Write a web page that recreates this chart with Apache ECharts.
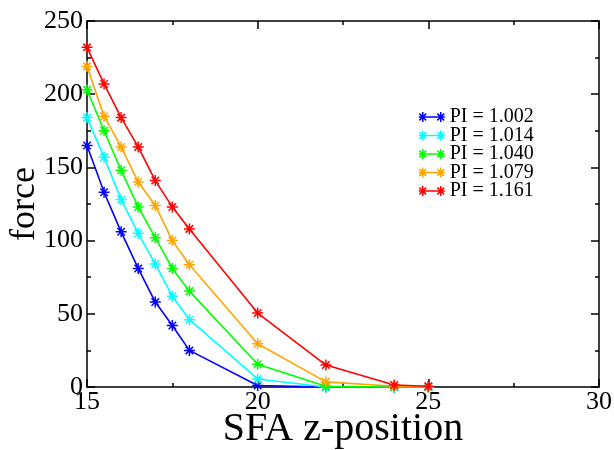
<!DOCTYPE html>
<html><head><meta charset="utf-8">
<script src="https://cdn.jsdelivr.net/npm/echarts@6/dist/echarts.min.js"></script>
<style>html,body{margin:0;padding:0;background:#fff}#c{width:614px;height:450px}</style>
</head><body><div id="c"></div>
<script>
const xPositions = [15, 15.5, 16, 16.5, 17, 17.5, 18, 20, 22, 24, 25];
const seriesNames = ['PI = 1.002', 'PI = 1.014', 'PI = 1.040', 'PI = 1.079', 'PI = 1.161'];
const pi1002 = [165, 133, 106, 81, 58, 42, 25, 1, 0, 0, 0];
const pi1014 = [184, 157, 128, 105, 84, 62, 46, 5.5, 0, 0, 0];
const pi1040 = [203, 175, 148, 123, 102, 81, 65.5, 15.5, 0.5, 0, 0];
const pi1079 = [219, 185, 164, 140, 124, 100, 83.5, 29.5, 3.5, 0.5, 0];
const pi1161 = [232, 207, 184, 164, 141, 123, 108, 50.5, 15, 1.4, 0.5];
const colors = ['#0000ff', '#00ffff', '#00ff00', '#ffa500', '#ff0000'];
const allValues = [pi1002, pi1014, pi1040, pi1079, pi1161];

const star = 'path://M0,5 L10,5 M5,0 L5,10 M1.6,1.6 L8.4,8.4 M8.4,1.6 L1.6,8.4';
const legendIcon = 'path://M0,5 L26,5 M4,0 L4,10 M0.6,1.6 L7.4,8.4 M7.4,1.6 L0.6,8.4 M22,0 L22,10 M18.6,1.6 L25.4,8.4 M25.4,1.6 L18.6,8.4';
const font = 'Liberation Serif';

const chart = echarts.init(document.getElementById('c'));
const series = allValues.map((vals, i) => ({
  name: seriesNames[i],
  type: 'line',
  data: xPositions.map((x, j) => [x, vals[j]]),
  symbol: star,
  symbolSize: 11,
  showAllSymbol: true,
  lineStyle: { color: colors[i], width: 1.6 },
  itemStyle: { color: colors[i], borderColor: colors[i], borderWidth: 1.5 },
  emphasis: { disabled: true },
  animation: false
}));

const tickCommon = { inside: true, length: 8, lineStyle: { color: '#000', width: 1.5 } };
const minorCommon = { show: true, splitNumber: 2, length: 4, lineStyle: { color: '#000', width: 1.5 } };

chart.setOption({
  animation: false,
  grid: { left: 87, right: 15, top: 21, bottom: 63, outerBoundsMode: 'none' },
  legend: {
    orient: 'vertical', left: 413, top: 102,
    itemWidth: 26, itemHeight: 10, itemGap: -1.5,
    icon: legendIcon,
    itemStyle: { borderWidth: 1.5 },
    textStyle: { fontFamily: font, fontSize: 20, color: '#000' },
    data: seriesNames
  },
  xAxis: [{
    type: 'value', min: 15, max: 30, interval: 5,
    name: 'SFA z-position', nameLocation: 'middle', nameGap: 22, nameMoveOverlap: false,
    nameTextStyle: { fontFamily: font, fontSize: 40, color: '#000' },
    axisLine: { onZero: false, lineStyle: { color: '#000', width: 1.5 } },
    axisTick: tickCommon, minorTick: minorCommon,
    axisLabel: { fontFamily: font, fontSize: 26, color: '#000', margin: 2 },
    splitLine: { show: false }
  }, {
    type: 'value', min: 15, max: 30, interval: 5, position: 'top',
    axisLine: { onZero: false, lineStyle: { color: '#000', width: 1.5 } },
    axisTick: tickCommon, minorTick: minorCommon,
    axisLabel: { show: false }, splitLine: { show: false }
  }],
  yAxis: [{
    type: 'value', min: 0, max: 250, interval: 50,
    name: 'force', nameLocation: 'middle', nameGap: 44, nameMoveOverlap: false,
    nameTextStyle: { fontFamily: font, fontSize: 36, color: '#000' },
    axisLine: { onZero: false, lineStyle: { color: '#000', width: 1.5 } },
    axisTick: tickCommon, minorTick: minorCommon,
    axisLabel: { fontFamily: font, fontSize: 26, color: '#000', margin: 4 },
    splitLine: { show: false }
  }, {
    type: 'value', min: 0, max: 250, interval: 50, position: 'right',
    axisLine: { onZero: false, lineStyle: { color: '#000', width: 1.5 } },
    axisTick: tickCommon, minorTick: minorCommon,
    axisLabel: { show: false }, splitLine: { show: false }
  }],
  series: series
});
</script></body></html>
